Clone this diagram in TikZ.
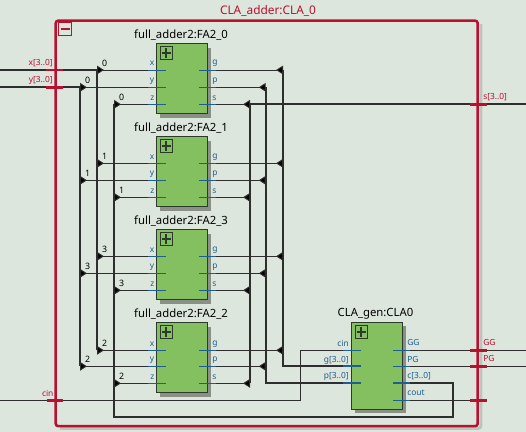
\documentclass[tikz,border=0pt]{standalone}
\usepackage{fontspec}
\usetikzlibrary{arrows.meta}
\setmainfont{Noto Sans}
\definecolor{sheet}{HTML}{DDE6DD}
\definecolor{frame}{HTML}{B8102F}
\definecolor{wire}{HTML}{2E2E2E}
\definecolor{block}{HTML}{84BF60}
\definecolor{blockedge}{HTML}{2B3A2B}
\definecolor{dropgray}{HTML}{8A8F88}
\definecolor{edgegray}{HTML}{BCC4BC}
\definecolor{portblue}{HTML}{1F5F8F}
\tikzset{
  thinwire/.style={draw=wire,line width=0.75pt},
  buswire/.style={draw=wire,line width=1.5pt},
  ripperin/.style={{Triangle[reversed,length=5.2pt,width=6.5pt,fill=black]}-},
  ripperout/.style={-{Triangle[reversed,length=5.2pt,width=6.5pt,fill=black]}},
  stub/.style={draw=portblue,line width=0.75pt},
  busstub/.style={draw=portblue,line width=1.5pt},
  pintick/.style={draw=frame,line width=2.2pt},
  blockbox/.style={draw=blockedge,fill=block,line width=0.9pt,minimum width=38.2pt,inner sep=0pt},
  plusbox/.style={draw=blockedge,line width=0.75pt,minimum size=9.4pt,inner sep=0pt},
  title/.style={font=\fontsize{8.5}{10}\selectfont,text=black,inner sep=0pt},
  portlabel/.style={font=\fontsize{6.3}{8}\selectfont,text=portblue,inner sep=0pt},
  pinlabel/.style={font=\fontsize{6.3}{8}\selectfont,text=frame,inner sep=0pt},
  bitlabel/.style={font=\fontsize{6.6}{8}\selectfont,text=black,inner sep=0pt}
}
\begin{document}
\begin{tikzpicture}[x=0.75pt,y=-0.75pt]
  \useasboundingbox[fill=sheet] (0,0) rectangle (526,432);
  % enclosing module
  \draw[draw=edgegray,line width=2pt,rounded corners=2pt] (481,24) -- (481,428.5) -- (60,428.5);
  \node[draw=frame,line width=1.9pt,minimum width=316.5pt,minimum height=304.2pt,inner sep=0pt,rounded corners=2pt] (CLAtop) at (266.7,223.4) {};
  \node[draw=frame,line width=0.75pt,minimum size=9.4pt,inner sep=0pt] (fold) at (65,29) {};
  \draw[frame,line width=1.4pt] (60.5,29) -- (69.5,29);
  \node[font=\fontsize{8.9}{10}\selectfont,text=frame,inner sep=0pt] (CLAtitle) at (268,11) {CLA\_adder:CLA\_0};
  % bus junctions
  \coordinate (xbus) at (97,70);
  \coordinate (ybus) at (80,87.3);
  \coordinate (zbus) at (114,104.3);
  \coordinate (sbus) at (250,104.3);
  \coordinate (pbus) at (265.7,87.3);
  \coordinate (gbus) at (283,70);
  % adders
  \foreach \bit/\top/\ya/\yb/\yc in {0/43.5/70/87.3/104.3,1/136.5/163.3/180.3/197.3,3/229.5/256.3/273.3/290.3,2/322.5/350.3/366.3/383.3}{
    \fill[dropgray] (160,\top+4) rectangle (211,\top+74);
    \node[blockbox,minimum height=52.5pt] (FA\bit) at (182,\top+35) {};
    \node[plusbox] (FA\bit plus) at (166.3,\top+9.5) {};
    \draw[blockedge,line width=1.4pt] (161.5,\top+9.5) -- (171.1,\top+9.5) (166.3,\top+4.7) -- (166.3,\top+14.3);
    \node[title] (FA\bit title) at (181,\top-8.5) {full\_adder2:FA2\_\bit};
    \coordinate (FA\bit xl) at (148,\ya);  \coordinate (FA\bit xr) at (166,\ya);
    \coordinate (FA\bit yl) at (148,\yb);  \coordinate (FA\bit yr) at (166,\yb);
    \coordinate (FA\bit zl) at (148,\yc);  \coordinate (FA\bit zr) at (166,\yc);
    \coordinate (FA\bit gl) at (199,\ya);  \coordinate (FA\bit gr) at (216,\ya);
    \coordinate (FA\bit pl) at (199,\yb);  \coordinate (FA\bit pr) at (216,\yb);
    \coordinate (FA\bit sl) at (199,\yc);  \coordinate (FA\bit sr) at (216,\yc);
    \coordinate (FA\bit xb) at (xbus |- FA\bit xl);
    \coordinate (FA\bit yb) at (ybus |- FA\bit yl);
    \coordinate (FA\bit zb) at (zbus |- FA\bit zl);
    \coordinate (FA\bit gb) at (gbus |- FA\bit gl);
    \coordinate (FA\bit pb) at (pbus |- FA\bit pl);
    \coordinate (FA\bit sb) at (sbus |- FA\bit sl);
    \draw[thinwire,ripperin] (FA\bit xb) -- (FA\bit xl);
    \draw[thinwire,ripperin] (FA\bit yb) -- (FA\bit yl);
    \draw[thinwire,ripperin] (FA\bit zb) -- (FA\bit zl);
    \draw[thinwire,ripperout] (FA\bit gr) -- (FA\bit gb);
    \draw[thinwire,ripperout] (FA\bit pr) -- (FA\bit pb);
    \draw[thinwire,ripperout] (FA\bit sr) -- (FA\bit sb);
    \draw[stub] (FA\bit xl) -- (FA\bit xr);
    \draw[stub] (FA\bit yl) -- (FA\bit yr);
    \draw[stub] (FA\bit zl) -- (FA\bit zr);
    \draw[stub] (FA\bit gl) -- (FA\bit gr);
    \draw[stub] (FA\bit pl) -- (FA\bit pr);
    \draw[stub] (FA\bit sl) -- (FA\bit sr);
    \node[portlabel,anchor=east] (FA\bit xtext) at (154.5,\ya-6.5) {x};
    \node[portlabel,anchor=east] (FA\bit ytext) at (154.5,\yb-6.5) {y};
    \node[portlabel,anchor=east] (FA\bit ztext) at (154.5,\yc-6.5) {z};
    \node[portlabel,anchor=west] (FA\bit gtext) at (212,\ya-6.5) {g};
    \node[portlabel,anchor=west] (FA\bit ptext) at (212,\yb-6.5) {p};
    \node[portlabel,anchor=west] (FA\bit stext) at (212,\yc-6.5) {s};
    \node[bitlabel] (FA\bit xbit) at (104.7,\ya-7) {\bit};
    \node[bitlabel] (FA\bit ybit) at (87.7,\yb-7) {\bit};
    \node[bitlabel] (FA\bit zbit) at (121.7,\yc-7) {\bit};
  }
  % generator
  \fill[dropgray] (355,326) rectangle (406,413);
  \node[blockbox,minimum height=65.2pt] (CLA0) at (377,366) {};
  \node[plusbox] (CLA0plus) at (361.3,332) {};
  \draw[blockedge,line width=1.4pt] (356.5,332) -- (366.1,332) (361.3,327.2) -- (361.3,336.8);
  \node[title] (CLA0title) at (375.5,314) {CLA\_gen:CLA0};
  \coordinate (cinl) at (343,350.3);  \coordinate (cinr) at (361,350.3);
  \coordinate (gl) at (343,366.3);    \coordinate (gr) at (361,366.3);
  \coordinate (pl) at (343,383);      \coordinate (pr) at (361,383);
  \coordinate (GGl) at (393,350.3);   \coordinate (GGr) at (410,350.3);
  \coordinate (PGl) at (393,366.3);   \coordinate (PGr) at (410,366.3);
  \coordinate (cl) at (393,383);      \coordinate (cr) at (410,383);
  \coordinate (coutl) at (393,400.3); \coordinate (coutr) at (410,400.3);
  \node[portlabel,anchor=east] (cintext) at (349,343) {cin};
  \node[portlabel,anchor=east] (gtext) at (349,360) {g[3..0]};
  \node[portlabel,anchor=east] (ptext) at (349,376.5) {p[3..0]};
  \node[portlabel,anchor=west] (GGtext) at (407,343) {GG};
  \node[portlabel,anchor=west] (PGtext) at (407,360) {PG};
  \node[portlabel,anchor=west] (ctext) at (407,376.5) {c[3..0]};
  \node[portlabel,anchor=west] (couttext) at (407,393) {cout};
  % pins
  \coordinate (xin) at (0,70);
  \coordinate (yin) at (0,87.3);
  \coordinate (cin) at (0,400.3);
  \coordinate (sout) at (526,104.3);
  \coordinate (GGout) at (526,350.3);
  \coordinate (PGout) at (526,366.3);
  \coordinate (coutpin) at (478,400.3);
  % wires
  \draw[buswire] (xin) -- (FA0xb) -- (FA2xb);
  \draw[buswire] (yin) -- (FA0yb) -- (FA2yb);
  \draw[buswire] (sout) -- (FA0sb) -- (FA2sb);
  \draw[buswire] (FA0gb) -- (gbus |- gl) -- (gl);
  \draw[buswire] (FA0pb) -- (pbus |- pl) -- (pl);
  \draw[buswire] (FA0zb) -- (114,417) -- (453,417) -- (453,383) -- (cr);
  \draw[thinwire] (cin) -- (300.3,400.3) -- (300.3,350.3) -- (cinl);
  \draw[thinwire] (GGr) -- (GGout);
  \draw[thinwire] (PGr) -- (PGout);
  \draw[thinwire] (coutr) -- (coutpin);
  \draw[stub] (cinl) -- (cinr);
  \draw[busstub] (gl) -- (gr);
  \draw[busstub] (pl) -- (pr);
  \draw[stub] (GGl) -- (GGr);
  \draw[stub] (PGl) -- (PGr);
  \draw[busstub] (cl) -- (cr);
  \draw[stub] (coutl) -- (coutr);
  % pin ticks
  \draw[pintick] (45.7,70) -- (62.7,70);
  \draw[pintick] (45.7,87.3) -- (62.7,87.3);
  \draw[pintick] (47,400.3) -- (63.3,400.3);
  \draw[pintick] (469.7,104.3) -- (486.7,104.3);
  \draw[pintick] (470.3,350.3) -- (487,350.3);
  \draw[pintick] (470.3,366.3) -- (487,366.3);
  \draw[pintick] (470.3,400.3) -- (487,400.3);
  \node[pinlabel,anchor=east] (xtext) at (53,63) {x[3..0]};
  \node[pinlabel,anchor=east] (ytext) at (53,80) {y[3..0]};
  \node[pinlabel] (cinpin) at (47.7,393) {cin};
  \node[pinlabel,anchor=west] (stext) at (483,97) {s[3..0]};
  \node[pinlabel,anchor=west] (GGpin) at (483,342) {GG};
  \node[pinlabel,anchor=west] (PGpin) at (483,359) {PG};
\end{tikzpicture}
\end{document}
